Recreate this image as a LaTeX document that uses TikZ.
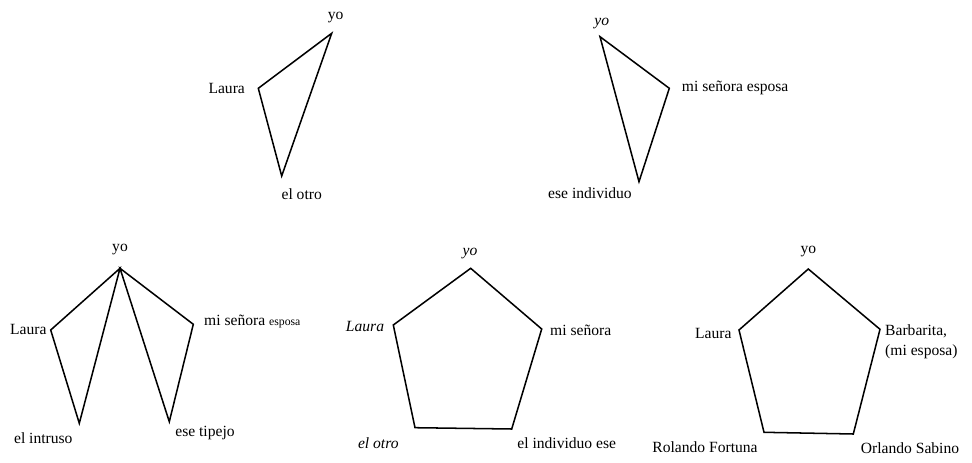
\documentclass[tikz,border=0pt]{standalone}
\usepackage{fontspec}
\setmainfont{Liberation Serif}
\usetikzlibrary{positioning}
\tikzset{lbl/.style={font=\fontsize{13.3}{15}\selectfont,inner sep=0pt},
  side/.style={line width=1.3pt,line join=miter}}

\begin{document}
\begin{tikzpicture}[x=0.3mm,y=-0.3mm]
\useasboundingbox (0,0) rectangle (972,463);
% top left
\coordinate (ayo) at (331.7,33.3);\coordinate (alaura) at (258.3,88.3);\coordinate (aotro) at (281.7,176);
\draw[side] (ayo)--(alaura)--(aotro)--cycle;
\node[lbl] (ayol) at (335.7,18){yo};\node[lbl] (alaural) at (226.7,88){Laura};\node[lbl] (aotrol) at (301.7,194){el otro};
% top right
\coordinate (byo) at (600,36.7);\coordinate (besp) at (669.3,88.3);\coordinate (bind) at (639,181.7);
\draw[side] (byo)--(besp)--(bind)--cycle;
\node[lbl] (byol) at (601.7,24){\itshape yo};\node[lbl,anchor=west] (bespl) at (681.7,88){mi señora esposa};
\node[lbl] (bindl) at (590,192.7){ese individuo};
% bottom left
\coordinate (cyo) at (120,268.3);\coordinate (claura) at (50.7,330);\coordinate (cintr) at (79.3,423.3);
\coordinate (ctip) at (169.3,421.7);\coordinate (cesp) at (193.3,324.3);
\draw[side] (cyo)--(claura)--(cintr)--cycle;
\draw[side] (cyo)--(ctip)--(cesp)--cycle;
\node[lbl] (cyol) at (120,250){yo};\node[lbl] (claural) at (28.3,329.3){Laura};
\node[lbl,anchor=west] (cespl) at (204,321.7){mi señora {\fontsize{10}{11}\selectfont esposa}};
\node[lbl] (cintrl) at (43.3,438.3){el intruso};\node[lbl] (ctipl) at (205,432.7){ese tipejo};
% bottom middle
\coordinate (dyo) at (470.7,268.3);\coordinate (dlaura) at (393.3,325);\coordinate (dsen) at (541.7,329);
\coordinate (dotro) at (415,427.7);\coordinate (dind) at (511.7,429);
\draw[side] (dyo)--(dsen)--(dind)--(dotro)--(dlaura)--cycle;
\node[lbl] (dyol) at (470,253.3){\itshape yo};\node[lbl] (dlaural) at (365,326){\itshape Laura};
\node[lbl,anchor=west] (dsenl) at (550,330){mi señora};
\node[lbl] (dotrol) at (378.3,443.3){\itshape el otro};\node[lbl] (dindl) at (566.7,443.3){el individuo ese};
% bottom right
\coordinate (eyo) at (808.3,269);\coordinate (elaura) at (739,330);\coordinate (ebarb) at (880,329.3);
\coordinate (erol) at (764,432.3);\coordinate (eorl) at (853.3,434);
\draw[side] (eyo)--(ebarb)--(eorl)--(erol)--(elaura)--cycle;
\node[lbl] (eyol) at (808.3,251.7){yo};\node[lbl] (elaural) at (713.3,333.3){Laura};
\node[lbl,anchor=west,align=left] (ebarbl) at (885,342){Barbarita,\\[2pt](mi esposa)};
\node[lbl] (eroll) at (705,446.7){Rolando Fortuna};\node[lbl] (eorll) at (910,448.3){Orlando Sabino};
\end{tikzpicture}
\end{document}
